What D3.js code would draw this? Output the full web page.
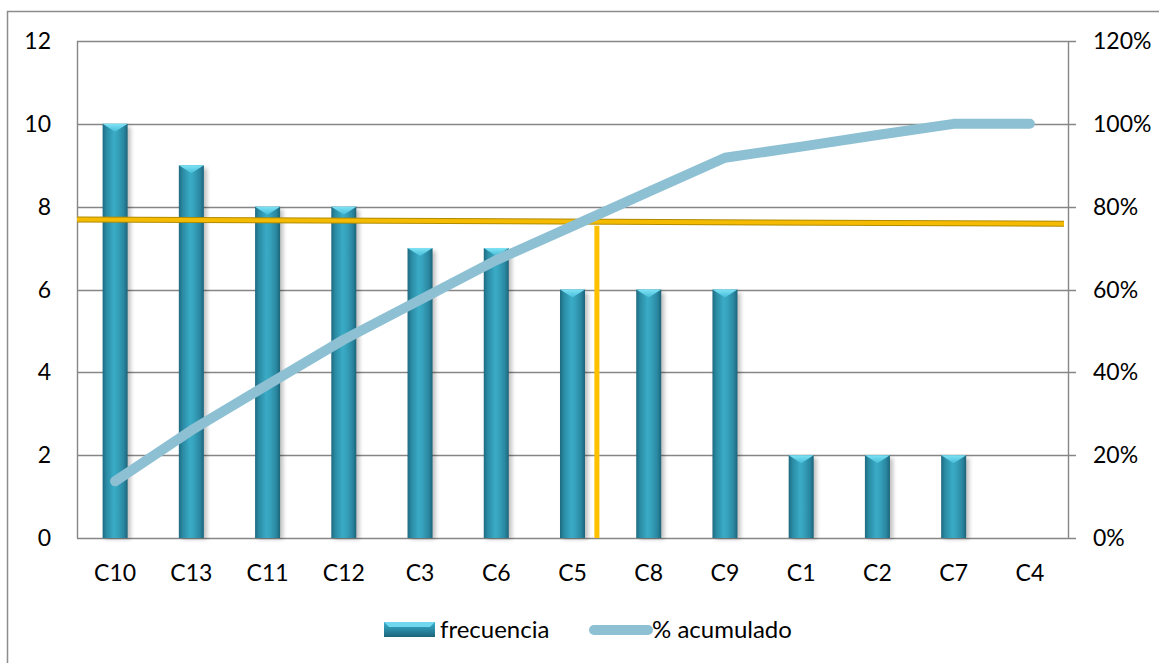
<!DOCTYPE html>
<html><head><meta charset="utf-8">
<script src="https://cdn.jsdelivr.net/npm/d3@7"></script>
<style>body{margin:0;background:#fff}svg{display:block}text{font-family:Lato,"Open Sans",sans-serif;fill:#000}</style>
</head><body><svg id="c" width="1159" height="663"></svg>
<script>
const categories = ["C10","C13","C11","C12","C3","C6","C5","C8","C9","C1","C2","C7","C4"];
const frecuencia = [10,9,8,8,7,7,6,6,6,2,2,2,0];
const acumulado = [13.7,26.0,37.0,47.9,57.5,67.1,75.3,83.6,91.8,94.5,97.3,100,100];
const leftTicks = [0,2,4,6,8,10,12];
const rightTicks = [0,20,40,60,80,100,120];
const refHorizontalPct = [76.9, 75.9];   // left end, right end
const refVerticalBand = 6.82;            // position in category units

const svg = d3.select("#c");
const L=77, R=1068, T=41, B=538;
const FS = 23;
const x = d3.scaleBand().domain(categories).range([L,R]);
const xc = d3.scaleLinear().domain([0,categories.length]).range([L,R]);
const y = d3.scaleLinear().domain([0,12]).range([B,T]);
const y2 = d3.scaleLinear().domain([0,120]).range([B,T]);

const defs = svg.append("defs");
const g = defs.append("linearGradient").attr("id","bar").attr("x1","0").attr("x2","1").attr("y1","0").attr("y2","0");
[[0,"#1d6a80"],[0.15,"#2a8aa3"],[0.45,"#3aabc6"],[0.6,"#36a2bc"],[0.85,"#2a86a0"],[1,"#1b6479"]].forEach(s=>g.append("stop").attr("offset",s[0]).attr("stop-color",s[1]));
const gl = defs.append("linearGradient").attr("id","barh").attr("x1","0").attr("x2","0").attr("y1","0").attr("y2","1");
[[0,"#3ab0cc"],[0.5,"#2b8ca6"],[1,"#1b6479"]].forEach(s=>gl.append("stop").attr("offset",s[0]).attr("stop-color",s[1]));
const cap = defs.append("linearGradient").attr("id","cap").attr("x1","0").attr("x2","0").attr("y1","0").attr("y2","1");
[[0,"#7fe3f5"],[1,"#45bcd8"]].forEach(s=>cap.append("stop").attr("offset",s[0]).attr("stop-color",s[1]));
const sh = defs.append("filter").attr("id","sh").attr("x","-50%").attr("width","200%");
sh.append("feGaussianBlur").attr("stdDeviation",2);

// outer border
svg.append("rect").attr("x",7.5).attr("y",11.5).attr("width",1170).attr("height",700).attr("fill","none").attr("stroke","#8c8c8c").attr("stroke-width",1.5);

// gridlines
svg.append("g").selectAll("line").data(leftTicks.filter(d=>d>0)).join("line")
  .attr("x1",L).attr("x2",R+8).attr("y1",d=>Math.round(y(d))+0.5).attr("y2",d=>Math.round(y(d))+0.5)
  .attr("stroke","#868686").attr("stroke-width",1.4);
// axes lines
svg.append("line").attr("x1",L+0.5).attr("x2",L+0.5).attr("y1",T).attr("y2",B).attr("stroke","#868686").attr("stroke-width",1.4);
svg.append("line").attr("x1",R+0.5).attr("x2",R+0.5).attr("y1",T).attr("y2",B).attr("stroke","#868686").attr("stroke-width",1.4);
svg.append("line").attr("x1",L).attr("x2",R+8).attr("y1",B+0.5).attr("y2",B+0.5).attr("stroke","#868686").attr("stroke-width",1.4);

// tick labels
svg.append("g").selectAll("text").data(leftTicks).join("text")
  .attr("x",51).attr("y",d=>y(d)+8).attr("text-anchor","end").attr("font-size",FS).text(d=>d);
svg.append("g").selectAll("text").data(rightTicks).join("text")
  .attr("x",1093).attr("y",d=>y2(d)+8).attr("font-size",FS).text(d=>d+"%");
svg.append("g").selectAll("text").data(categories).join("text")
  .attr("x",d=>x(d)+x.bandwidth()/2).attr("y",581).attr("text-anchor","middle").attr("font-size",FS).text(d=>d);

// bars
const bw = 25;
const bars = svg.append("g");
categories.forEach((c,i)=>{
  const v = frecuencia[i]; if(!v) return;
  const cx = x(c)+x.bandwidth()/2, x0 = cx-bw/2, yt = y(v);
  bars.append("rect").attr("x",x0+3).attr("y",yt+3).attr("width",bw).attr("height",B-yt-2).attr("fill","#000").attr("opacity",0.25).attr("filter","url(#sh)");
  bars.append("rect").attr("x",x0).attr("y",yt).attr("width",bw).attr("height",B-yt).attr("fill","url(#bar)");
  bars.append("path").attr("d",`M${x0},${yt}L${x0+bw},${yt}L${cx},${yt+8}Z`).attr("fill","url(#cap)");
});

// yellow reference lines
svg.append("line").attr("x1",L).attr("x2",R-4).attr("y1",y2(refHorizontalPct[0])).attr("y2",y2(refHorizontalPct[1]))
  .attr("stroke","#b08a00").attr("stroke-width",6);
svg.append("line").attr("x1",L).attr("x2",R-4).attr("y1",y2(refHorizontalPct[0])).attr("y2",y2(refHorizontalPct[1]))
  .attr("stroke","#f5bb00").attr("stroke-width",4);
svg.append("line").attr("x1",xc(refVerticalBand)).attr("x2",xc(refVerticalBand)).attr("y1",y2(refHorizontalPct[1])+2).attr("y2",B)
  .attr("stroke","#ffc000").attr("stroke-width",5);

// cumulative line
svg.append("path").datum(acumulado)
  .attr("d",d3.line().x((d,i)=>x(categories[i])+x.bandwidth()/2).y(d=>y2(d)))
  .attr("fill","none").attr("stroke","#8dc0d3").attr("stroke-width",10).attr("stroke-linecap","round").attr("stroke-linejoin","round");

// legend
const lg = svg.append("g");
lg.append("rect").attr("x",384).attr("y",622).attr("width",51).attr("height",15).attr("fill","url(#barh)");
lg.append("path").attr("d","M384,622L435,622L430,627L389,627Z").attr("fill","#6fd8ee");
lg.append("text").attr("x",440).attr("y",638).attr("font-size",FS+1).text("frecuencia");
lg.append("line").attr("x1",594).attr("x2",648).attr("y1",630).attr("y2",630).attr("stroke","#8dc0d3").attr("stroke-width",10).attr("stroke-linecap","round");
lg.append("text").attr("x",652).attr("y",638).attr("font-size",FS+1).text("% acumulado");
</script></body></html>
